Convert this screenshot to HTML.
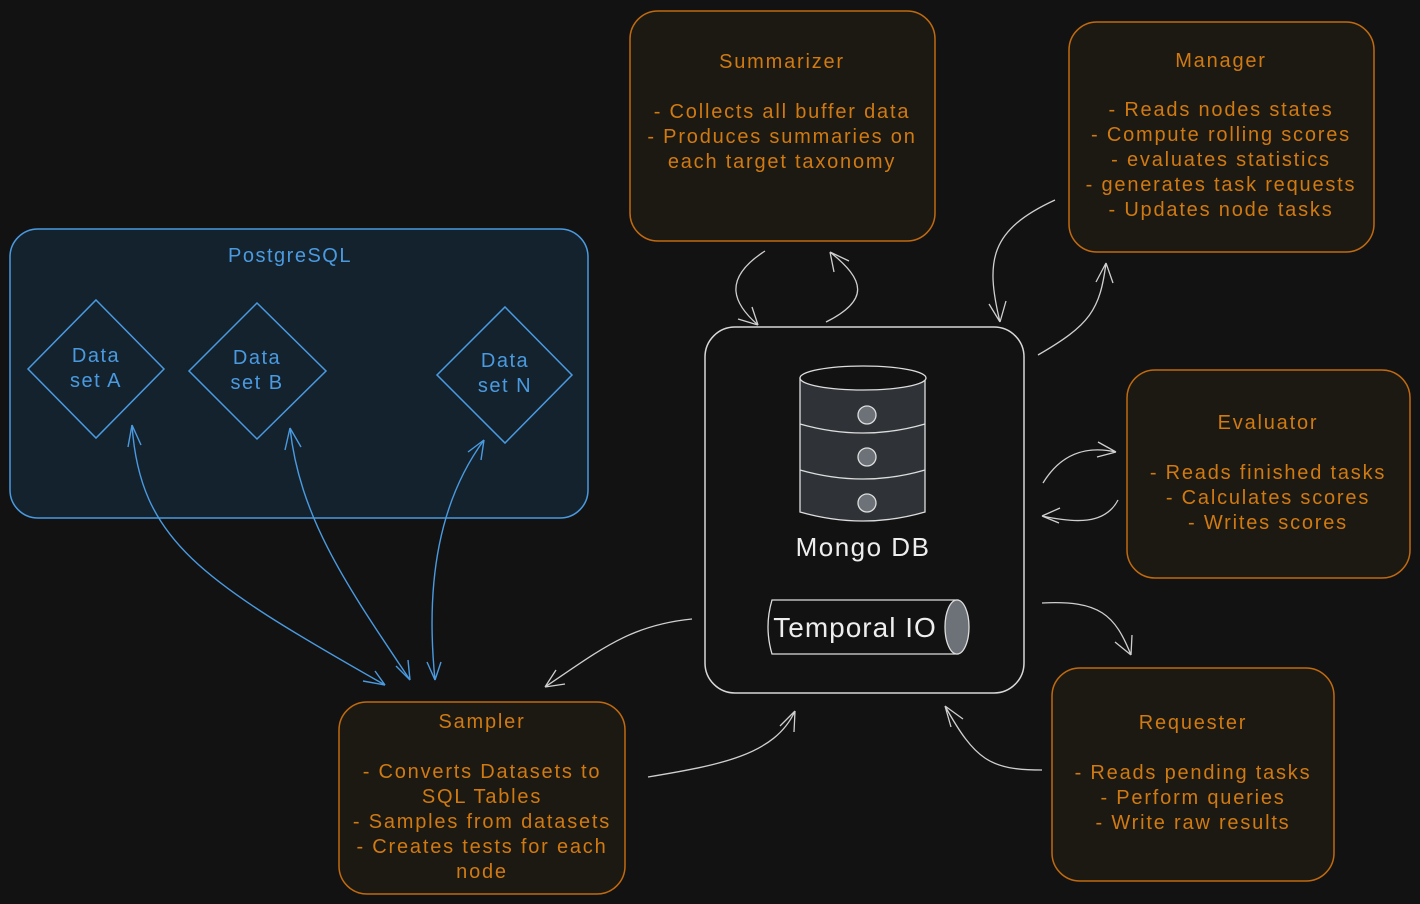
<!DOCTYPE html>
<html><head><meta charset="utf-8"><style>
html,body{margin:0;padding:0;background:#121212;}
svg{display:block}
text{font-family:"Liberation Sans",sans-serif;}
.o{fill:#d07a12;font-size:20px;letter-spacing:1.8px;text-anchor:middle}
.b{fill:#4a9ae0;font-size:20px;letter-spacing:1.5px;text-anchor:middle}
.ob{fill:#1c1812;stroke:#c06a10;stroke-width:1.5}
.ln{fill:none;stroke:#cfcfcf;stroke-width:1.3}
.bl{fill:none;stroke:#4a9ae0;stroke-width:1.4}
</style></head><body>
<svg width="1420" height="904" viewBox="0 0 1420 904" xmlns="http://www.w3.org/2000/svg">
<rect width="1420" height="904" fill="#121212"/>
<rect x="10" y="229" width="578" height="289" rx="28" fill="#14222e" stroke="#4a9ae0" stroke-width="1.5"/>
<text class="b" x="290" y="262">PostgreSQL</text>
<g fill="#14222e" stroke="#4a9ae0" stroke-width="1.5">
<path d="M96 300 L164 369 L96 438 L28 369 Z"/>
<path d="M257 303 L326 371 L257 439 L189 371 Z"/>
<path d="M505 307 L572 375 L505 443 L437 375 Z"/>
</g>
<text class="b" x="96" y="362">Data</text><text class="b" x="96" y="387">set A</text>
<text class="b" x="257" y="364">Data</text><text class="b" x="257" y="389">set B</text>
<text class="b" x="505" y="367">Data</text><text class="b" x="505" y="392">set N</text>
<path class="bl" d="M132 425 C140 540 200 580 385 685"/>
<path class="bl" d="M132 425 l-4 22 M132 425 l9 20 M385 685 l-22 -4 M385 685 l-10 -14"/>
<path class="bl" d="M290 428 C300 520 350 590 410 680"/>
<path class="bl" d="M290 428 l-5 22 M290 428 l11 19 M410 680 l-14 -14 M410 680 l-2 -20"/>
<path class="bl" d="M484 440 C440 500 425 580 435 680"/>
<path class="bl" d="M484 440 l-16 12 M484 440 l-3 20 M435 680 l-8 -18 M435 680 l6 -18"/>
<rect class="ob" x="630" y="11" width="305" height="230" rx="28"/>
<text class="o" x="782" y="68">Summarizer</text>
<text class="o" x="782" y="118">- Collects all buffer data</text>
<text class="o" x="782" y="143">- Produces summaries on</text>
<text class="o" x="782" y="168">each target taxonomy</text>
<rect class="ob" x="1069" y="22" width="305" height="230" rx="28"/>
<text class="o" x="1221" y="67">Manager</text>
<text class="o" x="1221" y="116">- Reads nodes states</text>
<text class="o" x="1221" y="141">- Compute rolling scores</text>
<text class="o" x="1221" y="166">- evaluates statistics</text>
<text class="o" x="1221" y="191">- generates task requests</text>
<text class="o" x="1221" y="216">- Updates node tasks</text>
<rect class="ob" x="1127" y="370" width="283" height="208" rx="28"/>
<text class="o" x="1268" y="429">Evaluator</text>
<text class="o" x="1268" y="479">- Reads finished tasks</text>
<text class="o" x="1268" y="504">- Calculates scores</text>
<text class="o" x="1268" y="529">- Writes scores</text>
<rect class="ob" x="1052" y="668" width="282" height="213" rx="28"/>
<text class="o" x="1193" y="729">Requester</text>
<text class="o" x="1193" y="779">- Reads pending tasks</text>
<text class="o" x="1193" y="804">- Perform queries</text>
<text class="o" x="1193" y="829">- Write raw results</text>
<rect class="ob" x="339" y="702" width="286" height="192" rx="28"/>
<text class="o" x="482" y="728">Sampler</text>
<text class="o" x="482" y="778">- Converts Datasets to</text>
<text class="o" x="482" y="803">SQL Tables</text>
<text class="o" x="482" y="828">- Samples from datasets</text>
<text class="o" x="482" y="853">- Creates tests for each</text>
<text class="o" x="482" y="878">node</text>
<rect x="705" y="327" width="319" height="366" rx="30" fill="#121212" stroke="#d8d8d8" stroke-width="1.5"/>
<path d="M800 378 L800 512 Q863 530 925 512 L925 378 Z" fill="#2f3337" stroke="#ddd" stroke-width="1.3"/>
<ellipse cx="863" cy="378" rx="63" ry="12" fill="#121212" stroke="#ddd" stroke-width="1.3"/>
<path d="M800 424 Q863 442 925 424 M800 470 Q863 488 925 470" fill="none" stroke="#ddd" stroke-width="1.3"/>
<g fill="#6d7278" stroke="#ddd" stroke-width="1.3">
<circle cx="867" cy="415" r="9"/><circle cx="867" cy="457" r="9"/><circle cx="867" cy="503" r="9"/>
</g>
<text x="863" y="556" fill="#eee" font-size="26" letter-spacing="1.5" text-anchor="middle">Mongo DB</text>
<path d="M772 600 L958 600 L958 654 L772 654 Q764 627 772 600 Z" fill="#121212" stroke="#ddd" stroke-width="1.3"/>
<ellipse cx="957" cy="627" rx="12" ry="27" fill="#6d7278" stroke="#ddd" stroke-width="1.3"/>
<text x="855" y="637" fill="#eee" font-size="28" letter-spacing="1" text-anchor="middle">Temporal IO</text>
<path class="ln" d="M765 251 C720 280 735 305 758 325 M758 325 l-20 -6 M758 325 l-6 -18"/>
<path class="ln" d="M826 322 C870 300 865 280 830 252 M830 252 l19 9 M830 252 l4 20"/>
<path class="ln" d="M1055 200 C990 230 985 260 1000 322 M1000 322 l-11 -18 M1000 322 l6 -21"/>
<path class="ln" d="M1038 355 C1090 325 1100 310 1106 263 M1106 263 l-10 19 M1106 263 l7 20"/>
<path class="ln" d="M1043 483 C1060 455 1085 445 1116 452 M1116 452 l-18 -10 M1116 452 l-19 5"/>
<path class="ln" d="M1118 500 C1105 525 1075 523 1042 516 M1042 516 l18 -8 M1042 516 l17 7"/>
<path class="ln" d="M1042 603 C1100 600 1115 615 1131 655 M1131 655 l-16 -13 M1131 655 l1 -20"/>
<path class="ln" d="M1042 770 C990 770 975 760 945 706 M945 706 l6 21 M945 706 l18 13"/>
<path class="ln" d="M648 777 C720 765 775 755 795 711 M795 711 l-15 15 M795 711 l-1 21"/>
<path class="ln" d="M692 619 C630 625 600 650 545 687 M545 687 l11 -17 M545 687 l20 -3"/>
</svg>
</body></html>
